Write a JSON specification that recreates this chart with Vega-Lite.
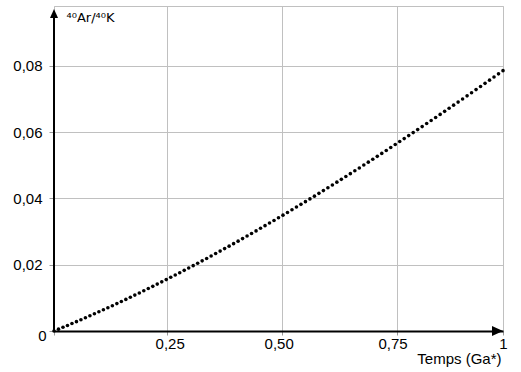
{
  "$schema": "https://vega.github.io/schema/vega-lite/v6.json",
  "width": 449,
  "height": 325,
  "autosize": {"type": "none"},
  "padding": {"left": 54, "top": 6, "right": 18, "bottom": 41},
  "background": "white",
  "config": {
    "view": {"stroke": "#c0c0c0", "strokeWidth": 1},
    "font": "Liberation Sans"
  },
  "layer": [
    {
      "data": {
        "values": [
          {"t": 0.00, "ratio": 0.0},
          {"t": 0.01, "ratio": 0.00055},
          {"t": 0.02, "ratio": 0.00111},
          {"t": 0.03, "ratio": 0.00168},
          {"t": 0.04, "ratio": 0.00225},
          {"t": 0.05, "ratio": 0.00282},
          {"t": 0.06, "ratio": 0.0034},
          {"t": 0.07, "ratio": 0.00399},
          {"t": 0.08, "ratio": 0.00458},
          {"t": 0.09, "ratio": 0.00518},
          {"t": 0.10, "ratio": 0.00579},
          {"t": 0.11, "ratio": 0.0064},
          {"t": 0.12, "ratio": 0.00701},
          {"t": 0.13, "ratio": 0.00763},
          {"t": 0.14, "ratio": 0.00826},
          {"t": 0.15, "ratio": 0.00889},
          {"t": 0.16, "ratio": 0.00953},
          {"t": 0.17, "ratio": 0.01017},
          {"t": 0.18, "ratio": 0.01082},
          {"t": 0.19, "ratio": 0.01147},
          {"t": 0.20, "ratio": 0.01213},
          {"t": 0.21, "ratio": 0.0128},
          {"t": 0.22, "ratio": 0.01347},
          {"t": 0.23, "ratio": 0.01414},
          {"t": 0.24, "ratio": 0.01482},
          {"t": 0.25, "ratio": 0.0155},
          {"t": 0.26, "ratio": 0.01619},
          {"t": 0.27, "ratio": 0.01689},
          {"t": 0.28, "ratio": 0.01758},
          {"t": 0.29, "ratio": 0.01829},
          {"t": 0.30, "ratio": 0.019},
          {"t": 0.31, "ratio": 0.01971},
          {"t": 0.32, "ratio": 0.02043},
          {"t": 0.33, "ratio": 0.02115},
          {"t": 0.34, "ratio": 0.02188},
          {"t": 0.35, "ratio": 0.02261},
          {"t": 0.36, "ratio": 0.02335},
          {"t": 0.37, "ratio": 0.02409},
          {"t": 0.38, "ratio": 0.02484},
          {"t": 0.39, "ratio": 0.02559},
          {"t": 0.40, "ratio": 0.02634},
          {"t": 0.41, "ratio": 0.0271},
          {"t": 0.42, "ratio": 0.02787},
          {"t": 0.43, "ratio": 0.02864},
          {"t": 0.44, "ratio": 0.02941},
          {"t": 0.45, "ratio": 0.03019},
          {"t": 0.46, "ratio": 0.03097},
          {"t": 0.47, "ratio": 0.03176},
          {"t": 0.48, "ratio": 0.03255},
          {"t": 0.49, "ratio": 0.03334},
          {"t": 0.50, "ratio": 0.03414},
          {"t": 0.51, "ratio": 0.03494},
          {"t": 0.52, "ratio": 0.03575},
          {"t": 0.53, "ratio": 0.03656},
          {"t": 0.54, "ratio": 0.03737},
          {"t": 0.55, "ratio": 0.03819},
          {"t": 0.56, "ratio": 0.03901},
          {"t": 0.57, "ratio": 0.03984},
          {"t": 0.58, "ratio": 0.04067},
          {"t": 0.59, "ratio": 0.0415},
          {"t": 0.60, "ratio": 0.04234},
          {"t": 0.61, "ratio": 0.04318},
          {"t": 0.62, "ratio": 0.04403},
          {"t": 0.63, "ratio": 0.04488},
          {"t": 0.64, "ratio": 0.04573},
          {"t": 0.65, "ratio": 0.04658},
          {"t": 0.66, "ratio": 0.04744},
          {"t": 0.67, "ratio": 0.04831},
          {"t": 0.68, "ratio": 0.04917},
          {"t": 0.69, "ratio": 0.05004},
          {"t": 0.70, "ratio": 0.05092},
          {"t": 0.71, "ratio": 0.05179},
          {"t": 0.72, "ratio": 0.05267},
          {"t": 0.73, "ratio": 0.05355},
          {"t": 0.74, "ratio": 0.05444},
          {"t": 0.75, "ratio": 0.05533},
          {"t": 0.76, "ratio": 0.05622},
          {"t": 0.77, "ratio": 0.05712},
          {"t": 0.78, "ratio": 0.05802},
          {"t": 0.79, "ratio": 0.05892},
          {"t": 0.80, "ratio": 0.05982},
          {"t": 0.81, "ratio": 0.06073},
          {"t": 0.82, "ratio": 0.06164},
          {"t": 0.83, "ratio": 0.06256},
          {"t": 0.84, "ratio": 0.06347},
          {"t": 0.85, "ratio": 0.06439},
          {"t": 0.86, "ratio": 0.06531},
          {"t": 0.87, "ratio": 0.06624},
          {"t": 0.88, "ratio": 0.06717},
          {"t": 0.89, "ratio": 0.0681},
          {"t": 0.90, "ratio": 0.06903},
          {"t": 0.91, "ratio": 0.06997},
          {"t": 0.92, "ratio": 0.07091},
          {"t": 0.93, "ratio": 0.07185},
          {"t": 0.94, "ratio": 0.07279},
          {"t": 0.95, "ratio": 0.07374},
          {"t": 0.96, "ratio": 0.07468},
          {"t": 0.97, "ratio": 0.07564},
          {"t": 0.98, "ratio": 0.07659},
          {"t": 0.99, "ratio": 0.07754},
          {"t": 1.00, "ratio": 0.0785}
        ]
      },
      "mark": {"type": "point", "shape": "circle", "filled": true, "size": 13, "color": "black", "opacity": 1, "strokeWidth": 0},
      "encoding": {
        "x": {
          "field": "t",
          "type": "quantitative",
          "scale": {"domain": [0, 1], "nice": false, "zero": false},
          "axis": {
            "values": [0, 0.251, 0.507, 0.763, 1],
            "labelExpr": "datum.value < 0.1 ? '' : datum.value < 0.4 ? '0,25' : datum.value < 0.6 ? '0,50' : datum.value < 0.9 ? '0,75' : '1'",
            "labelFont": "Liberation Sans",
            "labelFontSize": 15,
            "labelColor": "black",
            "labelBaseline": "top",
            "labelPadding": 1,
            "labelFlush": false,
            "labelOverlap": false,
            "labelOffset": {"condition": [{"test": "datum.value > 0.2 && datum.value < 0.3", "value": 3}, {"test": "datum.value > 0.4 && datum.value < 0.6", "value": -3}, {"test": "datum.value > 0.7 && datum.value < 0.8", "value": -4}], "value": 0},
            "domainColor": "black",
            "domainWidth": 2,
            "tickColor": "#999999",
            "tickSize": 4,
            "gridColor": "#c0c0c0",
            "gridWidth": 1,
            "title": "Temps (Ga*)",
            "titleFont": "Liberation Sans",
            "titleFontSize": 15,
            "titleFontWeight": "normal",
            "titleColor": "black",
            "titleAlign": "right",
            "titleBaseline": "alphabetic",
            "titleX": 447,
            "titleY": 32
          }
        },
        "y": {
          "field": "ratio",
          "type": "quantitative",
          "scale": {"domain": [0, 0.098], "nice": false, "zero": true},
          "axis": {
            "values": [0, 0.02, 0.04, 0.06, 0.08],
            "labelExpr": "datum.value === 0 ? '0' : replace(format(datum.value, '.2f'), '.', ',')",
            "labelFont": "Liberation Sans",
            "labelFontSize": 15,
            "labelColor": "black",
            "labelPadding": {"condition": {"test": "datum.value === 0", "value": 3}, "value": 7},
            "labelOffset": {"condition": {"test": "datum.value === 0", "value": 4}, "value": 0},
            "labelFlush": false,
            "labelOverlap": false,
            "domain": false,
            "tickColor": "#999999",
            "tickSize": 5,
            "gridColor": "#c0c0c0",
            "gridWidth": 1,
            "title": "⁴⁰Ar/⁴⁰K",
            "titleFont": "DejaVu Sans",
            "titleFontSize": 13,
            "titleFontWeight": "normal",
            "titleColor": "black",
            "titleAngle": 0,
            "titleAlign": "left",
            "titleBaseline": "alphabetic",
            "titleX": 12,
            "titleY": 15.5
          }
        }
      }
    },
    {
      "data": {"values": [{}]},
      "mark": {"type": "rule", "color": "black", "strokeWidth": 2},
      "encoding": {
        "x": {"datum": 0, "type": "quantitative"},
        "y": {"datum": 0, "type": "quantitative"},
        "y2": {"datum": 0.0947}
      }
    },
    {
      "data": {"values": [{}]},
      "mark": {"type": "point", "shape": "M 0 0 L -2 -0.9 L -2 0.9 Z", "filled": true, "size": 121, "color": "black", "opacity": 1, "strokeWidth": 0},
      "encoding": {
        "x": {"datum": 1, "type": "quantitative"},
        "y": {"datum": 0, "type": "quantitative"}
      }
    },
    {
      "data": {"values": [{}]},
      "mark": {"type": "point", "shape": "M 0 0 L -0.8 1.8 L 0.8 1.8 Z", "filled": true, "size": 100, "color": "black", "opacity": 1, "strokeWidth": 0},
      "encoding": {
        "x": {"datum": 0, "type": "quantitative"},
        "y": {"datum": 0.0971, "type": "quantitative"}
      }
    }
  ]
}
